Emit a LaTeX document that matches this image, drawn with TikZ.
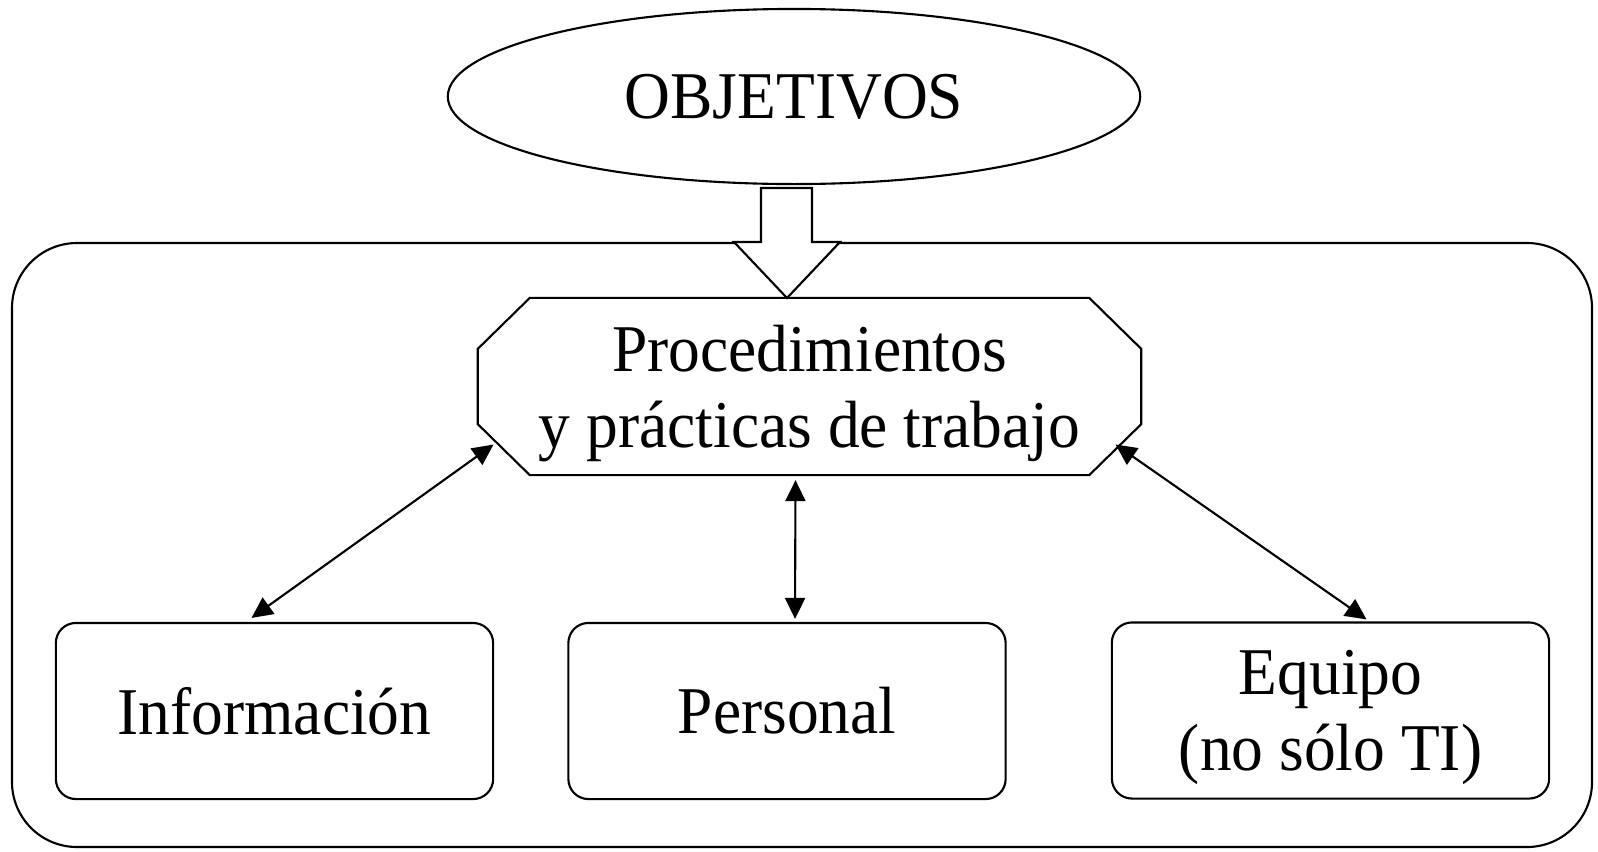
\documentclass[tikz,border=0pt]{standalone}
\usepackage{fontspec}
\setmainfont{Liberation Serif}[FakeStretch=0.95]
\usetikzlibrary{shapes.geometric}
\usetikzlibrary{arrows.meta}
\usetikzlibrary{calc}

\begin{document}
\begin{tikzpicture}[x = 0.01cm, y = -0.01cm, line width = 0.6pt,
        every node/.style = {font = \fontsize{19}{21.6}\selectfont, align = center, inner sep = 0pt},
        caja/.style = {draw, rounded corners = 0.2cm, minimum width = 4.37cm, minimum height = 1.76cm},
        doble/.style = {{Triangle[length = 0.21cm, width = 0.2cm]}-{Triangle[length = 0.21cm, width = 0.2cm]}}]
            \useasboundingbox (0, 0) rectangle (1598, 851);
            \draw [rounded corners = 0.65cm] (12, 243) rectangle (1592, 847);
            \node [draw, ellipse, minimum width = 6.92cm, minimum height = 1.75cm] (obj) at (794, 96.5) {OBJETIVOS};
            \node [minimum width = 6.61cm, minimum height = 1.75cm, text depth = 0pt] (proc) at (809.5, 386.5) {Procedimientos\\y prácticas de trabajo};
            \draw ($(proc.north west) + (52, 0)$) -- ($(proc.north east) + (-52, 0)$) -- ($(proc.north east) + (0, 51)$)
                -- ($(proc.south east) + (0, -51)$) -- ($(proc.south east) + (-52, 0)$) -- ($(proc.south west) + (52, 0)$)
                -- ($(proc.south west) + (0, -51)$) -- ($(proc.north west) + (0, 51)$) -- cycle;
            \draw [fill = white] (761, 188) -- (761, 242) -- (734, 242) -- (787, 298) -- (840, 242) -- (812, 242) -- (812, 188) -- cycle;
            \node [caja] (info) at (274.5, 711) {Información};
            \node [caja] (pers) at (787, 711) {Personal};
            \node [caja, text depth = 0pt] (equi) at (1330.5, 710.5) {Equipo\\(no sólo TI)};
            \draw [doble] ($(info.north) + (-23, -4)$) -- ($(proc.center) + (-316, 58)$);
            \draw [doble] ($(pers.north) + (8, -3)$) -- ($(proc.south) + (-14, 5)$);
            \draw [doble] ($(equi.north) + (36, -2)$) -- ($(proc.center) + (306, 58)$);
        \end{tikzpicture}
\end{document}
